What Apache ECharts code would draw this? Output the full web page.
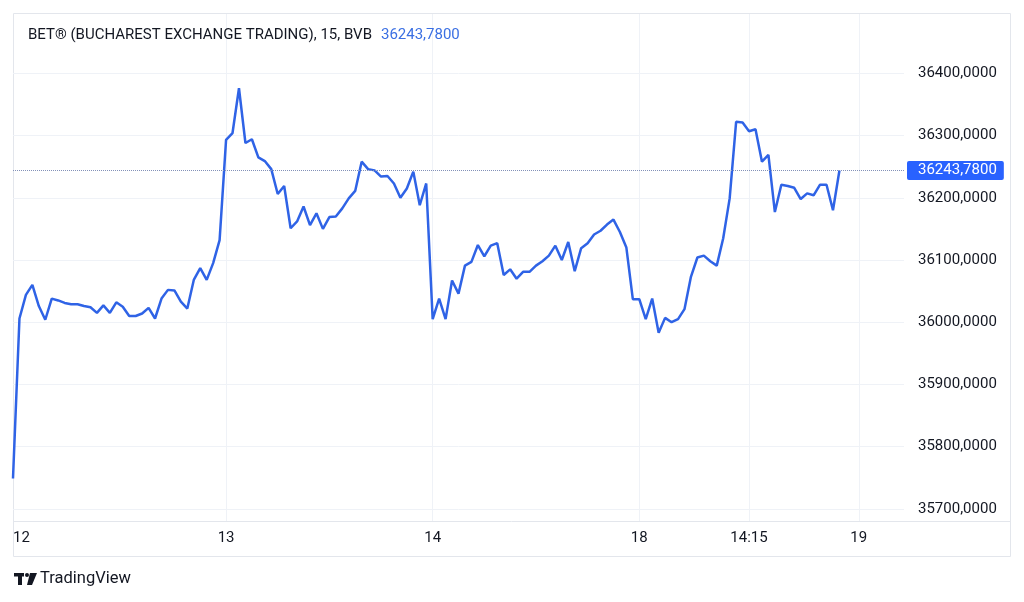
<!DOCTYPE html>
<html>
<head>
<meta charset="utf-8">
<script src="https://cdn.jsdelivr.net/npm/echarts@6.0.0/dist/echarts.min.js"></script>
<style>
    html, body {margin: 0; padding: 0; background: #fff;}
    #chart {width: 1024px; height: 602px;}
</style>
</head>
<body>
<div id="chart"></div>
<script>
// 15 minute closes, one array per trading day
var day12 = [35749, 36006, 36044, 36060, 36026, 36004, 36038, 36035, 36031, 36029, 36029, 36026, 36024, 36015, 36027, 36015, 36032,
    36025, 36010, 36010, 36014, 36023, 36006, 36038, 36052, 36051, 36033, 36022, 36068, 36087, 36068, 36095, 36132];
var day13 = [36293, 36304, 36376, 36288, 36294, 36265, 36259, 36246, 36206, 36219, 36151, 36162, 36186, 36156, 36175, 36150,
    36169, 36170, 36183, 36199, 36211, 36258, 36246, 36244, 36234, 36235, 36223, 36200, 36215, 36242, 36188, 36223];
var day14 = [36005, 36038, 36005, 36067, 36046, 36091, 36097, 36124, 36106, 36123, 36127, 36076, 36085, 36070, 36081, 36081,
    36091, 36098, 36107, 36123, 36100, 36129, 36082, 36119, 36127, 36141, 36147, 36157, 36165, 36145, 36120, 36037];
var day18 = [36037, 36005, 36038, 35983, 36007, 36000, 36005, 36021, 36073, 36104, 36107, 36098, 36091, 36135, 36199, 36322,
    36321, 36307, 36310, 36258, 36269, 36177, 36221, 36219, 36216, 36198, 36207, 36204, 36221, 36221, 36180, 36243.78];

var lastPrice = 36243.78;
var slotCount = 139;          // bar slots on the time scale (incl. empty future ones)
var xLabelIdx = [0, 33, 65, 97, 114, 131];
var xLabels = ['12', '13', '14', '18', '14:15', '19'];
var yTicks = [35700, 35800, 35900, 36000, 36100, 36200, 36300, 36400];

var closes = day12.concat(day13, day14, day18);
var slots = [];
for (var i = 0; i < slotCount; i++) {
    slots.push(String(i));
}

function fmt(v) {
    return v.toFixed(4).replace('.', ',');
}

var textColor = '#131722';
var lineColor = '#2f63e6';
var font = 'Roboto, "Noto Sans", sans-serif';

var myChart = echarts.init(document.getElementById('chart'));
var option = {
    animation: false,
    backgroundColor: '#fff',
    textStyle: {fontFamily: font},
    title: {
        left: 23,
        top: 21,
        text: '{a|BET® (BUCHAREST EXCHANGE TRADING), 15, BVB}  {b|' + fmt(lastPrice) + '}',
        textStyle: {
            rich: {
                a: {fontSize: 15, color: textColor, fontFamily: font, fontWeight: 'normal'},
                b: {fontSize: 15, color: '#3a6fe3', fontFamily: font, fontWeight: 'normal'}
            }
        }
    },
    grid: {left: 13, right: 120, top: 14, bottom: 81},
    xAxis: {
        type: 'category',
        boundaryGap: false,
        data: slots,
        axisLine: {show: false},
        axisTick: {show: false},
        axisLabel: {
            color: textColor,
            fontSize: 15,
            margin: 10,
            alignMinLabel: 'left',
            interval: function (index) {
                return xLabelIdx.indexOf(index) > -1;
            },
            formatter: function (value, index) {
                var k = xLabelIdx.indexOf(Number(value));
                return k > -1 ? xLabels[k] : '';
            }
        },
        splitLine: {
            show: true,
            interval: function (index) {
                return index > 0 && xLabelIdx.indexOf(index) > -1;
            },
            lineStyle: {color: '#eff2f7', width: 1}
        }
    },
    yAxis: {
        type: 'value',
        position: 'right',
        min: 35680.6,
        max: 36495.3,
        axisLine: {show: false},
        axisTick: {show: false, customValues: yTicks},
        axisLabel: {
            color: textColor,
            fontSize: 15,
            margin: 14,
            customValues: yTicks,
            formatter: function (v) {
                return fmt(v);
            }
        },
        splitLine: {show: true, lineStyle: {color: '#eff2f7', width: 1}}
    },
    series: [{
        type: 'line',
        data: closes,
        showSymbol: false,
        symbol: 'none',
        lineStyle: {color: lineColor, width: 2.5},
        markLine: {
            silent: true,
            symbol: 'none',
            lineStyle: {color: '#8391b8', type: 'dotted', width: 1},
            label: {
                show: true,
                position: 'end',
                distance: 3,
                formatter: fmt(lastPrice),
                backgroundColor: '#2962ff',
                color: '#fff',
                fontSize: 15,
                padding: [2, 7, 2, 11],
                borderRadius: 2
            },
            data: [{yAxis: lastPrice}]
        }
    }],
    graphic: [
        // outer frame and time scale separator
        {type: 'rect', shape: {x: 13.5, y: 13.5, width: 997, height: 543}, style: {fill: null, stroke: '#e3e6ec', lineWidth: 1}},
        {type: 'line', shape: {x1: 13, y1: 521.5, x2: 1010, y2: 521.5}, style: {stroke: '#e3e6ec', lineWidth: 1}},
        // TradingView logo
        {type: 'rect', shape: {x: 14, y: 573, width: 10, height: 3.5}, style: {fill: textColor}},
        {type: 'rect', shape: {x: 18, y: 573, width: 4, height: 12}, style: {fill: textColor}},
        {type: 'circle', shape: {cx: 27, cy: 575, r: 2}, style: {fill: textColor}},
        {type: 'polygon', shape: {points: [[30, 573], [37, 573], [32, 585], [27, 585]]}, style: {fill: textColor}},
        {type: 'text', x: 40, y: 570, style: {text: 'TradingView', fill: textColor, fontSize: 16.5, fontFamily: font}}
    ]
};

myChart.setOption(option);
</script>
</body>
</html>
